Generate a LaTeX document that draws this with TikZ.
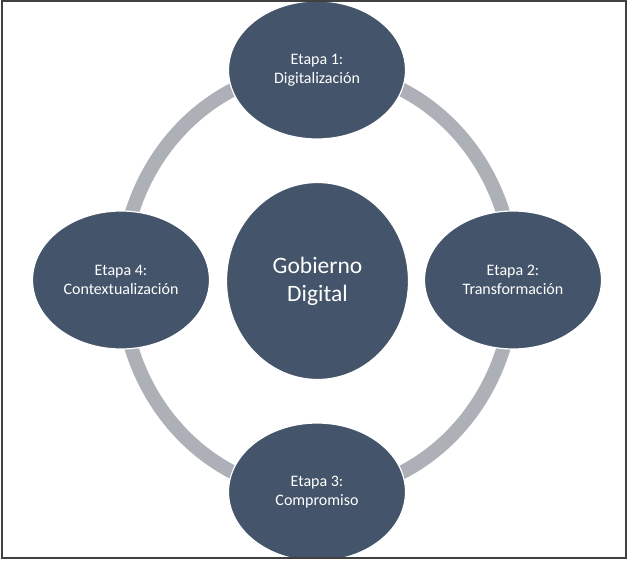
\documentclass[tikz,border=0pt]{standalone}
\usepackage{fontspec}
\setmainfont{Carlito}
\usetikzlibrary{shapes.geometric,backgrounds}
\definecolor{slate}{HTML}{44546A}
\definecolor{ringgray}{HTML}{ADB0B7}
\begin{document}
\begin{tikzpicture}[x=1pt,y=-1pt,
    etapa/.style={ellipse, fill=slate, draw=white, line width=1.2pt,
      minimum width=177pt, minimum height=138pt, inner sep=0pt,
      text=white, align=center, font=\fontsize{16}{19}\selectfont},
    hub/.style={etapa, minimum width=182pt, minimum height=197pt,
      font=\fontsize{23.5}{28}\selectfont}]
  \useasboundingbox (0,0) rectangle (628,561);
  \scope
  \clip (2,1) rectangle (626,558);
  \node[hub] (gobierno) at (317.5,281) {Gobierno\\Digital};
  \node[etapa] (etapa1) at (317,70) {Etapa 1:\\Digitalización};
  \node[etapa] (etapa2) at (513,280) {Etapa 2:\\Transformación};
  \node[etapa] (etapa3) at (317,492) {Etapa 3:\\Compromiso};
  \node[etapa] (etapa4) at (121,280) {Etapa 4:\\Contextualización};
  \begin{scope}[on background layer]
    \draw[ringgray, line width=14pt] (gobierno.center) ellipse (196 and 212);
  \end{scope}
  \endscope
  \draw[black!75, line width=1.5pt] (2,1) rectangle (626,558);
\end{tikzpicture}
\end{document}
